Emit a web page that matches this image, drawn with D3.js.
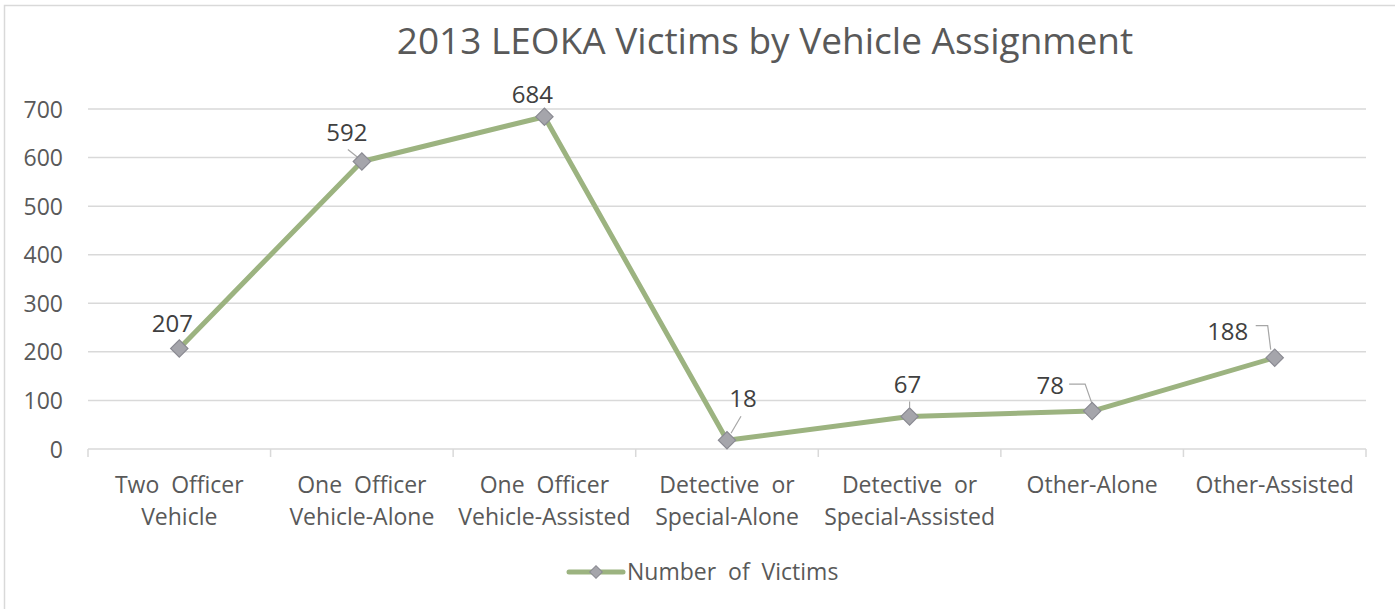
<!DOCTYPE html>
<html><head><meta charset="utf-8">
<script src="https://cdn.jsdelivr.net/npm/d3@7"></script>
<style>html,body{margin:0;padding:0;background:#fff;}svg{display:block;}</style>
</head><body>
<script>
const categories = [["Two  Officer","Vehicle"],["One  Officer","Vehicle-Alone"],["One  Officer","Vehicle-Assisted"],["Detective  or","Special-Alone"],["Detective  or","Special-Assisted"],["Other-Alone"],["Other-Assisted"]];
const values = [207, 592, 684, 18, 67, 78, 188];
const yTicks = [0, 100, 200, 300, 400, 500, 600, 700];
const seriesName = "Number  of  Victims";
const title = "2013 LEOKA Victims by Vehicle Assignment";

// label layout (offsets relative to point, in px) and leader lines
const labelLayout = [
  {dx:-7, dy:-16, leader:null},
  {dx:-15, dy:-20, leader:[[-14,-12],[-4,-4]]},
  {dx:-12, dy:-14, leader:null},
  {dx:16, dy:-33, leader:[[14,-24],[4,-7]]},
  {dx:-2, dy:-23, leader:[[0,-15],[0,-9]]},
  {dx:-42, dy:-17, leader:[[-23,-27],[-7,-27],[0,-7]]},
  {dx:-47, dy:-18, leader:[[-19,-32],[-7,-32],[-4,-8]]}
];

const W = 1395, H = 609;
const svg = d3.select("body").append("svg").attr("width", W).attr("height", H);
const font = "'Open Sans', 'Noto Sans', sans-serif";
const textColor = "#595959";

svg.append("path").attr("d", `M4.5,${H} V5.5 H${W}`).attr("fill","none").attr("stroke","#d9d9d9").attr("stroke-width",1.5);

svg.append("text").attr("x", 765).attr("y", 54).attr("text-anchor","middle")
  .attr("font-family", font).attr("font-size", 37).attr("fill", textColor).text(title);

const x = d3.scaleBand().domain(d3.range(categories.length)).range([88, 1366]).padding(0);
const y = d3.scaleLinear().domain([0, 700]).range([449, 109]);

// gridlines
svg.append("g").selectAll("line").data(yTicks.filter(d=>d>0)).join("line")
  .attr("x1", 88).attr("x2", 1366).attr("y1", d=>y(d)).attr("y2", d=>y(d))
  .attr("stroke","#d9d9d9").attr("stroke-width",1.5);

// y axis labels
const yAxis = d3.axisLeft(y).tickValues(yTicks).tickSize(0).tickPadding(0);
const gy = svg.append("g").attr("transform","translate(63,0)").call(yAxis);
gy.select(".domain").remove();
gy.selectAll("text").attr("font-family", font).attr("font-size", 23).attr("fill", textColor).attr("dy","0.35em");

// x axis
const xAxis = d3.axisBottom(x).tickSize(0).tickFormat("");
const gx = svg.append("g").attr("transform",`translate(0,${y(0)})`).call(xAxis);
gx.select(".domain").attr("stroke","#d9d9d9").attr("stroke-width",1.5).attr("d", `M88,0H1366`);
const bounds = d3.range(categories.length + 1).map(i => i < categories.length ? x(i) : x.range()[1]);
gx.selectAll(".bnd").data(bounds).join("line").attr("class","bnd")
  .attr("x1", d=>d).attr("x2", d=>d).attr("y1", 0).attr("y2", 8)
  .attr("stroke","#d9d9d9").attr("stroke-width",1.5);
const cat = svg.append("g").selectAll("text").data(categories).join("text")
  .attr("x", (d,i)=>x(i)+x.bandwidth()/2).attr("y", 493)
  .attr("text-anchor","middle").attr("font-family", font).attr("font-size", 23).attr("fill", textColor)
  .attr("xml:space","preserve");
cat.selectAll("tspan").data(d=>d).join("tspan")
  .attr("x", function(){ return this.parentNode.getAttribute("x"); })
  .attr("dy", (d,i)=> i===0 ? 0 : 32).text(d=>d);

const cx = i => x(i) + x.bandwidth()/2;
const lineColor = "#9cb380";
svg.append("path").datum(values)
  .attr("d", d3.line().x((d,i)=>cx(i)).y(d=>y(d)))
  .attr("fill","none").attr("stroke", lineColor).attr("stroke-width",5).attr("stroke-linejoin","round");

// leaders
const leaderG = svg.append("g");
values.forEach((v,i)=>{
  const L = labelLayout[i].leader;
  if (!L) return;
  leaderG.append("polyline").attr("points", L.map(p=>[cx(i)+p[0], y(v)+p[1]].join(",")).join(" "))
    .attr("fill","none").attr("stroke","#a6a6a6").attr("stroke-width",1.2);
});

svg.append("g").selectAll("path").data(values).join("path")
  .attr("transform",(d,i)=>`translate(${cx(i)},${y(d)}) rotate(45)`)
  .attr("d", d3.symbol().type(d3.symbolSquare).size(150))
  .attr("fill","#a5a5ab").attr("stroke","#8b8b93").attr("stroke-width",1.2);

svg.append("g").selectAll("text").data(values).join("text")
  .attr("x",(d,i)=>cx(i)+labelLayout[i].dx).attr("y",(d,i)=>y(d)+labelLayout[i].dy)
  .attr("text-anchor","middle").attr("font-family", font).attr("font-size", 24).attr("fill","#404040")
  .text(d=>d);

// legend
const lg = svg.append("g");
lg.append("line").attr("x1",569).attr("x2",623).attr("y1",572).attr("y2",572).attr("stroke",lineColor).attr("stroke-width",5).attr("stroke-linecap","round");
lg.append("path").attr("transform","translate(596,572) rotate(45)").attr("d", d3.symbol().type(d3.symbolSquare).size(80))
  .attr("fill","#a5a5ab").attr("stroke","#8b8b93").attr("stroke-width",1);
lg.append("text").attr("x",627).attr("y",580).attr("font-family",font).attr("font-size",23).attr("fill",textColor)
  .attr("xml:space","preserve").text(seriesName);
</script>
</body></html>
